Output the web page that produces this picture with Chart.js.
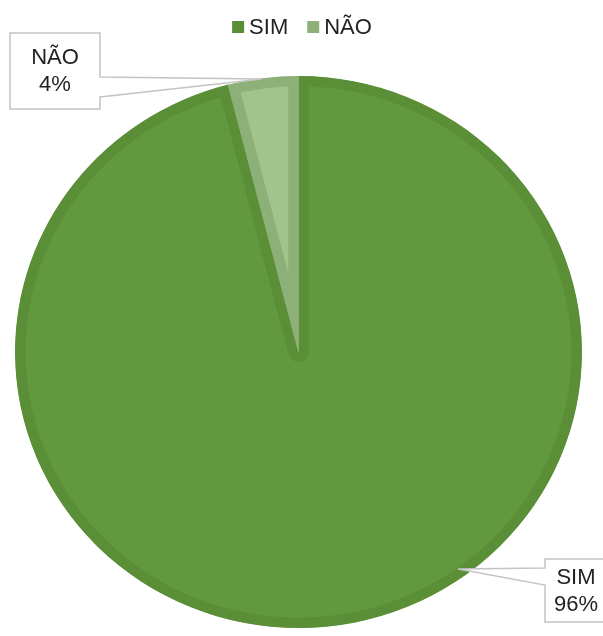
<!DOCTYPE html>
<html>
<head>
<meta charset="utf-8">
<script src="https://cdn.jsdelivr.net/npm/chart.js@4/dist/chart.umd.min.js"></script>
<style>
html, body { margin: 0; padding: 0; background: #fff; overflow: hidden; }
#wrap { width: 603px; height: 636px; position: relative; }
</style>
</head>
<body>
<div id="wrap"><canvas id="pie"></canvas></div>
<script>
// data
var labels = ['SIM', 'NÃO'];
var values = [96, 4];
var pctLabels = ['96%', '4%'];
var fillColors = ['#63993e', '#a0c48b'];
var borderColors = ['#5a8e37', '#8cb077'];

var FONT = '22px "Liberation Sans", Arial, sans-serif';
var TXT = '#222222';

// excel picture is a bit wider than tall, stretch the pie a little
var stretchPlugin = {
    id: 'stretch',
    beforeDatasetsDraw: function (chart) {
        var a = chart.getDatasetMeta(0).data[0];
        var ctx = chart.ctx;
        ctx.save();
        ctx.translate(a.x, a.y);
        ctx.scale(1.027, 1);
        ctx.translate(-a.x, -a.y);
    },
    afterDatasetsDraw: function (chart) {
        chart.ctx.restore();
    }
};

// legend on top, small square + text
var legendPlugin = {
    id: 'topLegend',
    afterDraw: function (chart) {
        var ctx = chart.ctx;
        ctx.save();
        ctx.font = FONT;
        ctx.textBaseline = 'middle';
        var box = 12, gap = 5, itemGap = 19;
        var widths = labels.map(function (l) { return box + gap + ctx.measureText(l).width; });
        var total = widths.reduce(function (s, w) { return s + w; }, 0) + itemGap * (labels.length - 1);
        var x = 302 - total / 2, y = 27;
        labels.forEach(function (l, i) {
            ctx.fillStyle = borderColors[i];
            ctx.fillRect(x, y - box / 2, box, box);
            ctx.fillStyle = TXT;
            ctx.textAlign = 'left';
            ctx.fillText(l, x + box + gap, y + 1);
            x += widths[i] + itemGap;
        });
        ctx.restore();
    }
};

// callout boxes with a pointer, like excel data labels
var callouts = [
    {x: 545, y: 559, w: 72, h: 63, side: 'left', b1: 568, b2: 585, tip: [458, 569]},
    {x: 10, y: 33, w: 90, h: 76, side: 'right', b1: 77, b2: 97, tip: [262, 79]}
];

var calloutPlugin = {
    id: 'callouts',
    afterDraw: function (chart) {
        var ctx = chart.ctx;
        ctx.save();
        callouts.forEach(function (c, i) {
            ctx.beginPath();
            if (c.side == 'right') {
                ctx.moveTo(c.x, c.y);
                ctx.lineTo(c.x + c.w, c.y);
                ctx.lineTo(c.x + c.w, c.b1);
                ctx.lineTo(c.tip[0], c.tip[1]);
                ctx.lineTo(c.x + c.w, c.b2);
                ctx.lineTo(c.x + c.w, c.y + c.h);
                ctx.lineTo(c.x, c.y + c.h);
            } else {
                ctx.moveTo(c.x, c.y);
                ctx.lineTo(c.x + c.w, c.y);
                ctx.lineTo(c.x + c.w, c.y + c.h);
                ctx.lineTo(c.x, c.y + c.h);
                ctx.lineTo(c.x, c.b2);
                ctx.lineTo(c.tip[0], c.tip[1]);
                ctx.lineTo(c.x, c.b1);
            }
            ctx.closePath();
            ctx.fillStyle = '#ffffff';
            ctx.fill();
            ctx.strokeStyle = '#c4c4c4';
            ctx.lineWidth = 1.5;
            ctx.stroke();

            ctx.fillStyle = TXT;
            ctx.font = FONT;
            ctx.textAlign = 'center';
            ctx.textBaseline = 'middle';
            var cx = c.x + c.w / 2 - (c.side == 'left' ? 5 : 0);
            var cy = c.y + c.h / 2;
            ctx.fillText(labels[i], cx, cy - 13);
            ctx.fillText(pctLabels[i], cx, cy + 14);
        });
        ctx.restore();
    }
};

var ctx = document.getElementById('pie').getContext('2d');
var chart = new Chart(ctx, {
    type: 'pie',
    data: {
        labels: labels,
        datasets: [{
            data: values,
            backgroundColor: fillColors,
            borderColor: borderColors,
            borderWidth: 10,
            borderAlign: 'inner',
            radius: 276
        }]
    },
    options: {
        responsive: true,
        maintainAspectRatio: false,
        animation: false,
        layout: { padding: { top: 68, bottom: 0, left: 0, right: 6 } },
        plugins: {
            legend: { display: false },
            tooltip: { enabled: false }
        }
    },
    plugins: [stretchPlugin, legendPlugin, calloutPlugin]
});
</script>
</body>
</html>
